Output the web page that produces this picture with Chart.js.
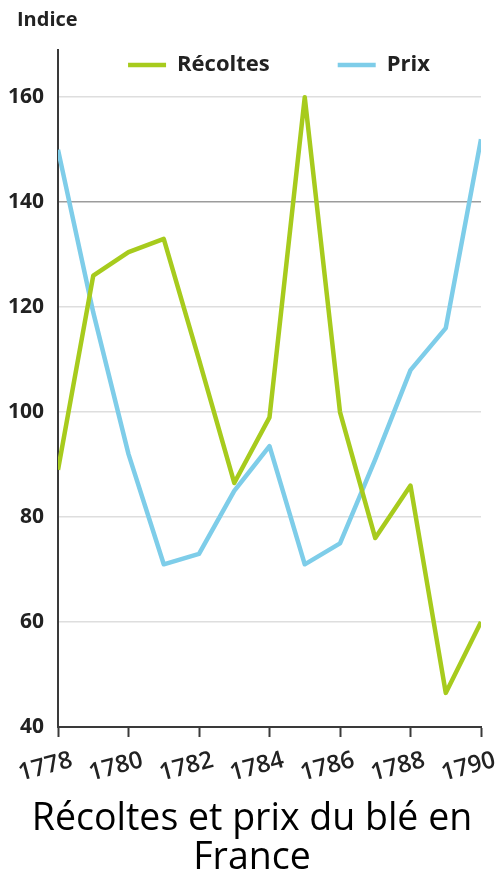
<!DOCTYPE html>
<html>
<head>
<meta charset="utf-8">
<script src="https://cdn.jsdelivr.net/npm/chart.js@4/dist/chart.umd.min.js"></script>
<style>
  html, body { margin: 0; padding: 0; background: #ffffff; }
  #wrap { width: 497px; height: 882px; }
</style>
</head>
<body>
<div id="wrap"><canvas id="c" width="497" height="882"></canvas></div>
<script>
// ---- Data ----
const years = [1778, 1779, 1780, 1781, 1782, 1783, 1784, 1785, 1786, 1787, 1788, 1789, 1790];
const recoltes = [89, 126, 130.5, 133, 110, 86.5, 99, 160, 100, 76, 86, 46.5, 60];
const prix = [150, 119, 92, 71, 73, 85, 93.5, 71, 75, 91, 108, 116, 152];
const xTickLabels = [1778, 1780, 1782, 1784, 1786, 1788, 1790];
const yTickLabels = [40, 60, 80, 100, 120, 140, 160];
const seriesNames = ['Récoltes', 'Prix'];
const yAxisTitle = 'Indice';
const chartTitle = ['Récoltes et prix du blé en', 'France'];

const GREEN = '#a7cb1d';
const BLUE = '#7ecde9';
const AXIS = '#3a3a3a';

const toPoints = (vals) => years.map((yr, i) => ({ x: yr, y: vals[i] }));

const LEGEND_PAD = 68, LEGEND_FS = 22;

const boxPlacer = {
  id: 'boxPlacer',
  beforeLayout(chart) {
    const lg = chart.legend;
    if (lg && !lg._patched) {
      const f = lg.fit;
      lg.fit = function () { f.call(this); this.height = 0; };
      lg._patched = true;
    }
  },
  afterLayout(chart) {
    const lg = chart.legend;
    if (lg) {
      lg.top = 65 - LEGEND_PAD - LEGEND_FS / 2;
      lg.bottom = lg.top + LEGEND_PAD * 2 + LEGEND_FS + 20;
      const dx = 279 - (lg.left + lg.right) / 2;
      lg.left += dx;
      lg.right += dx;
    }
    chart.boxes.forEach((b) => {
      if (b === lg || !b.options) return;
      if (b.options.text === yAxisTitle) {
        const shift = 17 - b.left;
        b.left += shift;
        b.right += shift;
      } else if (b.options.text === chartTitle) {
        const shift = 252 - (b.left + b.right) / 2;
        b.left += shift;
        b.right += shift;
      }
    });
  }
};

Chart.defaults.font.family = "'Open Sans', 'Noto Sans', sans-serif";

new Chart(document.getElementById('c'), {
  type: 'line',
  data: {
    datasets: [
      {
        label: seriesNames[0],
        data: toPoints(recoltes),
        borderColor: GREEN,
        backgroundColor: GREEN,
        borderWidth: 4.5,
        pointRadius: 0,
        tension: 0,
        borderJoinStyle: 'round',
        fill: false
      },
      {
        label: seriesNames[1],
        data: toPoints(prix),
        borderColor: BLUE,
        backgroundColor: BLUE,
        borderWidth: 4.5,
        pointRadius: 0,
        tension: 0,
        borderJoinStyle: 'round',
        fill: false
      }
    ]
  },
  options: {
    responsive: false,
    animation: false,
    devicePixelRatio: 1,
    layout: { padding: { left: 2, right: 16, top: 0, bottom: 0 } },
    plugins: {
      legend: {
        display: true,
        position: 'top',
        labels: {
          usePointStyle: true,
          pointStyle: 'line',
          pointStyleWidth: 38,
          padding: LEGEND_PAD,
          color: '#222222',
          font: { family: "'Open Sans', sans-serif", size: LEGEND_FS, weight: 'bold' }
        }
      },
      subtitle: {
        display: true,
        text: yAxisTitle,
        position: 'top',
        align: 'start',
        color: '#222222',
        font: { family: "'Open Sans', sans-serif", size: 20, weight: 'bold', lineHeight: 1.2 },
        padding: { top: 8, bottom: 18 }
      },
      title: {
        display: true,
        text: chartTitle,
        position: 'bottom',
        color: '#000000',
        font: { family: "'Open Sans', sans-serif", size: 37.5, weight: 'normal', lineHeight: '39px' },
        padding: { top: 13, bottom: 4 }
      },
      tooltip: { enabled: false }
    },
    scales: {
      x: {
        type: 'linear',
        min: years[0],
        max: years[years.length - 1],
        afterBuildTicks: (s) => { s.ticks = xTickLabels.map(v => ({ value: v })); },
        afterFit: (s) => { s.height = 60; s.paddingLeft = 0; s.paddingRight = 0; },
        grid: {
          drawOnChartArea: false,
          drawTicks: true,
          tickLength: 10,
          tickColor: AXIS,
          tickWidth: 2,
          color: AXIS
        },
        border: { color: AXIS, width: 2 },
        ticks: {
          autoSkip: false,
          minRotation: 15,
          maxRotation: 15,
          labelOffset: 14,
          padding: 9,
          color: '#222222',
          font: { family: "'Open Sans', sans-serif", size: 24, weight: '600' },
          callback: (v) => String(v)
        }
      },
      y: {
        type: 'linear',
        min: 40,
        max: 169,
        afterBuildTicks: (s) => { s.ticks = yTickLabels.map(v => ({ value: v })); },
        afterFit: (s) => { s.width = 56; },
        grid: {
          drawTicks: false,
          lineWidth: 1.5,
          color: (ctx) => (ctx.tick && ctx.tick.value === 140) ? '#9c9c9c' : '#dedede'
        },
        border: { color: AXIS, width: 2 },
        ticks: {
          padding: 14,
          color: '#222222',
          font: { family: "'Open Sans', sans-serif", size: 21, weight: 'bold' },
          callback: (v) => String(v)
        }
      }
    }
  },
  plugins: [boxPlacer]
});
</script>
</body>
</html>
